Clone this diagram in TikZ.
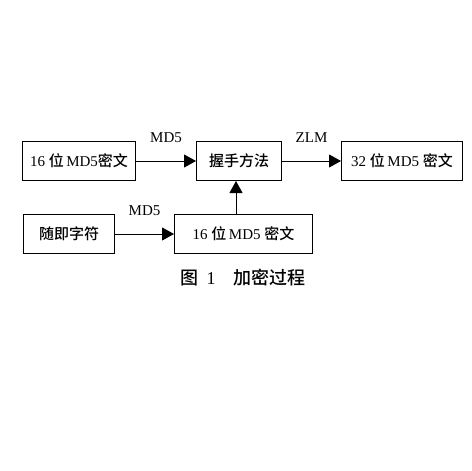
\documentclass[tikz,border=0pt]{standalone}
\usepackage{fontspec}
\setmainfont{Liberation Serif}
\newfontfamily\cjk{Noto Sans CJK SC Medium}
\usetikzlibrary{arrows.meta}
\begin{document}
\begin{tikzpicture}[x=1pt,y=-1pt,
  box/.style={draw,line width=1pt,inner sep=0pt,anchor=north west,font=\fontsize{15}{17}\selectfont},
  conn/.style={line width=1pt,-{Triangle[length=12pt,width=13pt]}},
  lbl/.style={font=\fontsize{15}{17}\selectfont}]
\useasboundingbox[fill=white] (0,0) rectangle (472,471);
\node[box,minimum width=113pt,minimum height=39pt] (a) at (22,141) {16 {\cjk 位}\,MD5{\cjk 密文}};
\node[box,minimum width=85pt,minimum height=39pt] (h) at (196,141) {\cjk 握手方法};
\node[box,minimum width=121pt,minimum height=39pt] (z) at (341,141) {32 {\cjk 位}\,MD5 {\cjk 密文}};
\node[box,minimum width=91pt,minimum height=39pt] (r) at (23,214) {\cjk 随即字符};
\node[box,minimum width=138pt,minimum height=39pt] (b) at (174,214) {16 {\cjk 位}\,MD5 {\cjk 密文}};
\draw[conn] (a) -- (h) node[lbl,midway,above=15pt] {MD5};
\draw[conn] (h) -- (z) node[lbl,midway,above=15pt] {ZLM};
\draw[conn] (r) -- (b) node[lbl,midway,above=15pt] {MD5};
\draw[conn] (b.north -| 236,0) -- (h.south -| 236,0);
\node[font=\fontsize{18}{20}\selectfont\cjk] (cap) at (243,278) {图\ \ {\rmfamily 1}\quad 加密过程};
\end{tikzpicture}
\end{document}
